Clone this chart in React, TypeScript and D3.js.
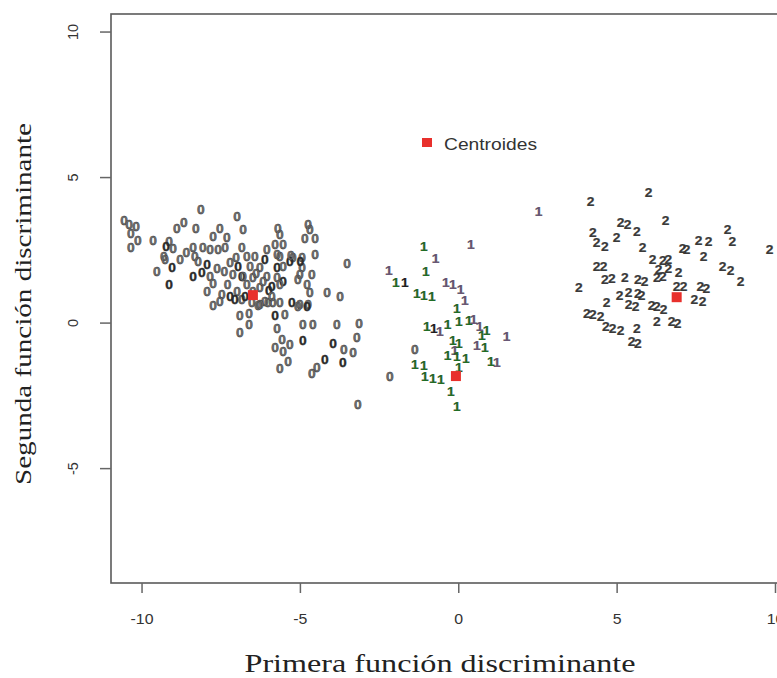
import React from "react";
import * as d3 from "d3";

// ---- data (discriminant scores) ----
const class0: [number, number][] = [
  [-10.57, 3.51], [-10.41, 3.37], [-10.19, 3.3], [-10.35, 3.06], [-10.13, 2.82], [-10.35, 2.58],
  [-9.65, 2.82], [-8.14, 3.88], [-8.68, 3.44], [-8.9, 3.23], [-8.3, 3.23], [-7.54, 3.23],
  [-7.76, 2.96], [-7.32, 2.92], [-7.0, 3.64], [-9.15, 2.78], [-9.24, 2.61], [-9.02, 2.54],
  [-9.31, 2.27], [-9.27, 2.16], [-8.8, 2.16], [-9.05, 1.89], [-9.53, 1.75], [-9.15, 1.31],
  [-8.39, 2.58], [-8.08, 2.58], [-7.85, 2.51], [-7.6, 2.51], [-7.38, 2.58], [-8.33, 2.27],
  [-8.23, 2.1], [-7.95, 1.99], [-7.63, 1.86], [-8.11, 1.72], [-7.85, 1.58], [-8.39, 1.58],
  [-7.76, 1.34], [-7.95, 1.07], [-7.48, 0.96], [-7.22, 2.06], [-7.03, 2.23], [-6.97, 1.92],
  [-7.13, 1.65], [-6.85, 1.58], [-7.0, 1.07], [-7.22, 0.89], [-6.85, 0.79],
  [-6.81, 3.2], [-5.71, 3.23], [-5.65, 3.02], [-4.76, 3.37], [-4.7, 3.2], [-4.86, 2.89],
  [-4.54, 2.89], [-5.8, 2.68], [-5.55, 2.68], [-6.06, 2.51], [-6.85, 2.58], [-4.54, 2.34],
  [-4.95, 2.23], [-5.24, 2.23], [-5.33, 2.1], [-5.65, 2.27], [-5.74, 2.34], [-6.69, 2.27],
  [-6.44, 2.27], [-6.12, 2.16], [-6.59, 1.92], [-6.28, 1.89], [-5.74, 1.89], [-5.55, 1.92],
  [-4.95, 1.89], [-5.02, 1.65], [-4.64, 1.65], [-3.53, 2.03], [-6.81, 1.58], [-6.5, 1.55],
  [-6.06, 1.58], [-5.74, 1.55], [-5.55, 1.41], [-5.08, 1.48], [-4.79, 1.31], [-4.7, 1.03],
  [-4.16, 1.03], [-3.75, 0.89], [-6.69, 1.31], [-6.28, 1.2], [-5.9, 1.24], [-5.65, 1.31],
  [-6.75, 0.89], [-6.12, 0.72], [-5.65, 0.69], [-5.27, 0.69], [-5.02, 0.62], [-4.76, 0.62],
  [-6.53, 0.69], [-6.28, 0.62], [-5.87, 0.69],
  [-7.76, 0.58], [-7.54, 0.72], [-7.07, 0.79], [-6.91, 0.24], [-6.62, 0.31], [-6.34, 0.58],
  [-6.03, 0.69], [-5.8, 0.24], [-5.49, 0.27], [-5.08, 0.55], [-4.79, 0.55],
  [-6.91, -0.34], [-6.62, -0.07], [-5.74, -0.21], [-4.92, -0.07], [-4.61, -0.07], [-3.85, -0.07],
  [-3.15, -0.03], [-5.58, -0.58], [-4.92, -0.62], [-3.22, -0.52], [-5.8, -0.86], [-5.55, -1.0],
  [-5.33, -0.76], [-3.97, -0.72], [-3.63, -0.93], [-3.34, -1.03], [-5.39, -1.34], [-5.65, -1.58],
  [-4.23, -1.27], [-4.48, -1.55], [-4.64, -1.75], [-3.66, -1.37], [-3.19, -2.82], [-1.39, -0.93],
  [-2.18, -1.86],
  [-6.5, 1.07], [-6.18, 1.41], [-5.3, 2.3], [-5.0, 2.1], [-7.4, 1.75], [-8.6, 2.4],
  [-6.0, 1.1], [-5.9, 0.9], [-7.3, 1.3], [-6.4, 1.7],
];
// darker zeros (overprinted in the original)
const class0Dark: number[] = [16, 21, 23, 31, 33, 35, 41, 43, 45, 61, 66, 69, 79, 87, 89, 92, 100, 105, 108, 117, 122, 127, 130, 137, 140];

const class1: [number, number][] = [
  [-1.1, 2.61], [0.38, 2.68], [-0.73, 2.2], [-2.21, 1.79], [-1.04, 1.75], [-1.99, 1.37],
  [-1.7, 1.37], [-0.41, 1.37], [-0.19, 1.31], [0.06, 1.13], [-1.32, 1.0], [-1.1, 0.93],
  [-0.85, 0.89], [-0.06, 0.48], [0.19, 0.76], [-1.01, -0.14], [-0.79, -0.21], [-0.6, -0.31],
  [-0.35, -0.07], [0.0, 0.03], [0.32, 0.07], [0.47, 0.1], [0.66, -0.14], [0.88, -0.27],
  [0.73, -0.45], [1.51, -0.48], [-0.19, -0.62], [0.0, -0.72], [0.57, -0.79], [0.82, -0.86],
  [-0.13, -0.96], [-0.35, -1.13], [-0.06, -1.17], [0.22, -1.24], [0.0, -1.55], [1.01, -1.34],
  [1.2, -1.37], [-1.39, -1.44], [-1.1, -1.48], [-1.07, -1.86], [-0.82, -1.92], [-0.57, -1.96],
  [-0.25, -2.37], [-0.06, -2.89], [2.52, 3.81],
];
// tone of each "1": g = green, p = purple-grey, d = dark
const class1Tone: string[] = [
  "g", "p", "p", "p", "g", "g", "d", "p", "p", "p", "g", "g",
  "g", "g", "p", "g", "d", "p", "g", "g", "g", "p", "p", "g",
  "g", "p", "g", "g", "p", "g", "p", "g", "g", "g", "g", "g",
  "p", "g", "g", "g", "g", "g", "g", "g", "p",
];

const class2: [number, number][] = [
  [5.99, 4.47], [4.16, 4.16], [5.11, 3.44], [5.33, 3.37], [5.62, 3.13], [6.53, 3.51],
  [4.23, 3.09], [4.35, 2.75], [4.61, 2.61], [4.98, 2.92], [5.8, 2.58], [7.07, 2.54],
  [7.19, 2.51], [8.49, 3.2], [8.64, 2.78], [7.57, 2.82], [7.89, 2.78], [7.73, 2.27],
  [9.81, 2.51], [6.12, 2.16], [6.44, 2.13], [6.62, 2.16], [4.35, 1.92], [4.57, 1.92],
  [8.33, 1.92], [8.58, 1.79], [8.9, 1.41], [6.31, 1.82], [6.62, 1.86], [6.94, 1.72],
  [6.25, 1.55], [6.44, 1.58], [4.61, 1.48], [4.83, 1.51], [5.24, 1.55], [5.65, 1.48],
  [5.87, 1.41], [3.79, 1.2], [6.88, 1.24], [7.1, 1.24], [7.63, 1.24], [7.82, 1.17],
  [5.08, 0.93], [5.36, 1.03], [5.65, 1.0], [5.77, 0.93], [4.67, 0.69], [7.44, 0.79],
  [7.7, 0.72], [5.36, 0.62], [5.58, 0.55], [6.09, 0.58], [6.25, 0.55], [6.47, 0.45],
  [4.04, 0.31], [4.23, 0.27], [4.48, 0.21], [6.72, 0.03], [6.91, -0.03], [6.25, 0.03],
  [4.64, -0.14], [4.86, -0.21], [5.11, -0.27], [5.62, -0.21], [5.46, -0.65], [5.65, -0.72],
];

const centroidX: number[] = [-6.5, -0.09, 6.88];
const centroidY: number[] = [0.96, -1.82, 0.89];

const xTicks: number[] = [-10, -5, 0, 5, 10];
const yTicks: number[] = [-5, 0, 5, 10];

const legendLabel = "Centroides";
const xTitle = "Primera función discriminante";
const yTitle = "Segunda función discriminante";

export default function App() {
  const W = 777;
  const H = 678;
  const left = 111;
  const top = 14;
  const bottom = 583;
  const right = 804;

  const x = d3.scaleLinear().domain([-10.98, 10.9]).range([left, right]);
  const y = d3.scaleLinear().domain([-8.93, 10.62]).range([bottom, top]);

  const tone: Record<string, string> = { g: "#1f6e25", p: "#6a5876", d: "#1e1e1e" };
  const tickFont = "'Liberation Sans', Arial, sans-serif";
  const serif = "'Liberation Serif', 'Times New Roman', serif";
  const darkSet = new Set(class0Dark);
  const glyph = (d: [number, number]) => `translate(${x(d[0])},${y(d[1])}) scale(1.15,1)`;

  return (
    <svg
      width={W}
      height={H}
      style={{ position: "absolute", left: 0, top: 0, background: "#fff" }}
    >
      <rect x={0} y={0} width={W} height={H} fill="#fff" />
      {/* frame */}
      <rect
        x={left}
        y={top}
        width={right - left}
        height={bottom - top}
        fill="none"
        stroke="#5a5a5a"
        strokeWidth={1.6}
      />
      {/* x axis */}
      {xTicks.map((t) => (
        <g key={"xt" + t}>
          <line x1={x(t)} x2={x(t)} y1={bottom} y2={bottom + 10} stroke="#666" strokeWidth={1.5} />
          <text
            x={x(t)}
            y={624}
            textAnchor="middle"
            fontFamily={tickFont}
            fontSize={15}
            fill="#333"
            transform={`translate(${x(t)},0) scale(1.06,1) translate(${-x(t)},0)`}
          >
            {t}
          </text>
        </g>
      ))}
      {/* y axis */}
      {yTicks.map((t) => (
        <g key={"yt" + t}>
          <line x1={left - 11} x2={left} y1={y(t)} y2={y(t)} stroke="#666" strokeWidth={1.5} />
          <text
            transform={`translate(78,${y(t)}) rotate(-90)`}
            textAnchor="middle"
            fontFamily={tickFont}
            fontSize={14.5}
            fill="#333"
          >
            {t}
          </text>
        </g>
      ))}
      {/* titles */}
      <text
        x={440}
        y={672}
        textAnchor="middle"
        fontFamily={serif}
        fontSize={25}
        fill="#222"
        textLength={391}
        lengthAdjust="spacingAndGlyphs"
      >
        {xTitle}
      </text>
      <text
        transform={`translate(31,${304}) rotate(-90)`}
        textAnchor="middle"
        fontFamily={serif}
        fontSize={24}
        fill="#222"
        textLength={362}
        lengthAdjust="spacingAndGlyphs"
      >
        {yTitle}
      </text>
      {/* points */}
      <g fontFamily={tickFont} fontSize={12} fontWeight="bold" textAnchor="middle" dominantBaseline="central">
        {class0.map((d, i) => (
          <text
            key={"a" + i}
            transform={glyph(d)}
            fill={darkSet.has(i) ? "#2a2a2a" : "#727272"}
            stroke="#2a2a2a"
            strokeWidth={0.35}
          >
            0
          </text>
        ))}
        {class1.map((d, i) => (
          <text key={"b" + i} transform={glyph(d)} fill={tone[class1Tone[i]]} stroke="#222" strokeWidth={0.2}>
            1
          </text>
        ))}
        {class2.map((d, i) => (
          <text key={"c" + i} transform={glyph(d)} fill="#3a3a3a" stroke="#222" strokeWidth={0.2}>
            2
          </text>
        ))}
      </g>
      {/* centroids */}
      {centroidX.map((cx, i) => (
        <rect key={"cen" + i} x={x(cx) - 5} y={y(centroidY[i]) - 5} width={10} height={10} fill="#e8302c" />
      ))}
      {/* legend */}
      <rect x={422} y={138} width={10} height={9} fill="#e8302c" />
      <text
        x={444}
        y={150}
        fontFamily={tickFont}
        fontSize={16.5}
        fill="#333"
        textLength={93}
        lengthAdjust="spacingAndGlyphs"
      >
        {legendLabel}
      </text>
    </svg>
  );
}
